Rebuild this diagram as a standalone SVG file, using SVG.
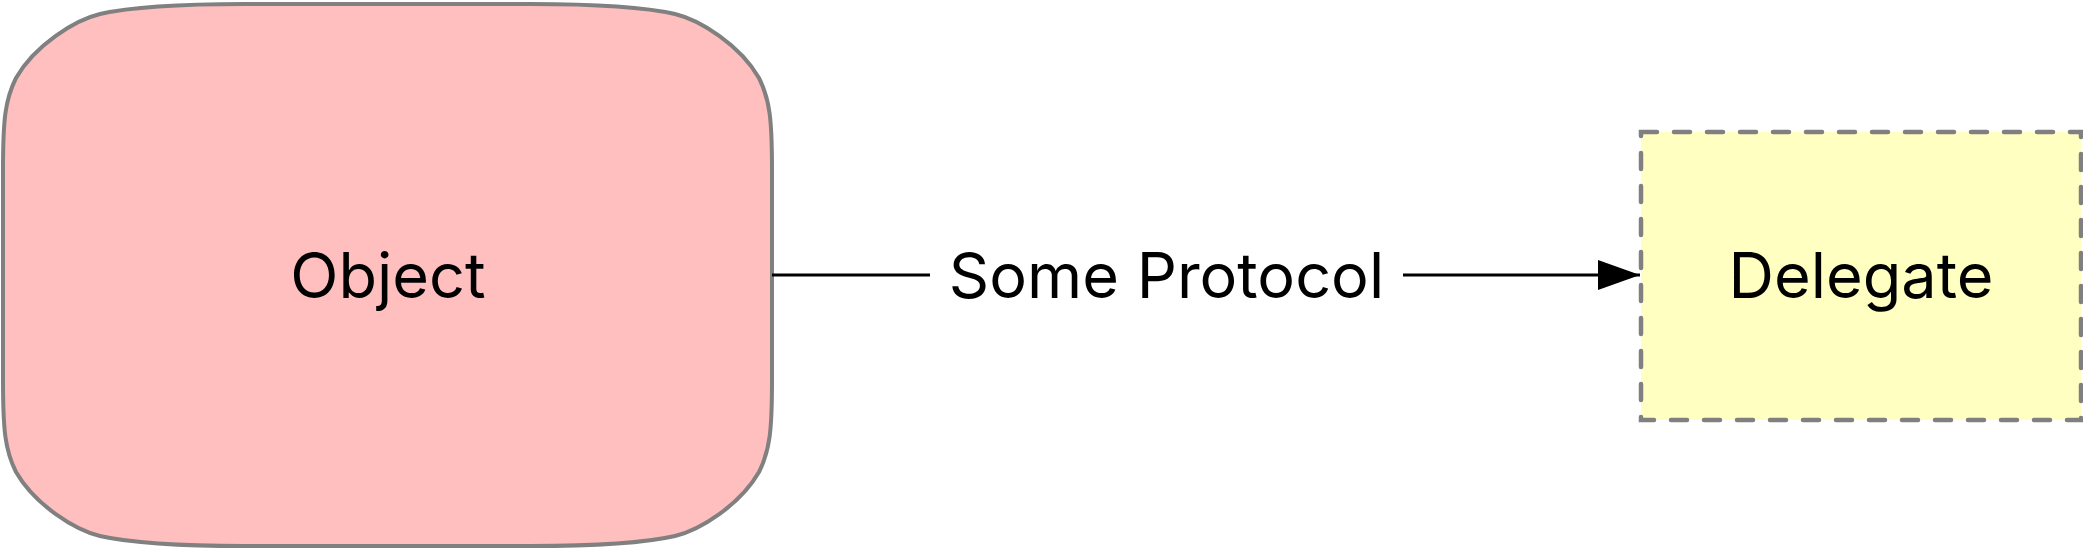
<svg xmlns="http://www.w3.org/2000/svg" width="2083" height="549" viewBox="0 0 2083 549">
  <defs>
    <style>
      .lbl { font-family: Inter, "Noto Sans", "Liberation Sans", sans-serif; font-size: 63px; fill: #000000; text-anchor: middle; }
      .conn { stroke: #000000; stroke-width: 3.2; fill: none; }
    </style>
    <marker id="arrow" markerWidth="42" markerHeight="30" refX="42" refY="15" orient="auto" markerUnits="userSpaceOnUse">
      <path d="M0,0 L42,15 L0,30 Z" fill="#000000"/>
    </marker>
  </defs>
  <rect width="2083" height="549" fill="#ffffff"/>
  <g id="object">
    <path d="M 3,170 C 3,120 5,100 16,78 C 35,45 75,20 100,14 C 135,6 190,4 245,4 L 530,4 C 585,4 640,6 675,14 C 700,20 740,45 759,78 C 770,100 772,120 772,170 L 772,380 C 772,430 770,450 759,472 C 740,505 700,530 675,536 C 640,544 585,546 530,546 L 245,546 C 190,546 135,544 100,536 C 75,530 35,505 16,472 C 5,450 3,430 3,380 Z" fill="#FFBFBF" stroke="#808080" stroke-width="4"/>
    <text class="lbl" x="388" y="298">Object</text>
  </g>
  <g id="delegate">
    <rect x="1641" y="132" width="440" height="288" fill="#FFFFC2" stroke="#808080" stroke-width="4.5" stroke-dasharray="16 17" stroke-linecap="round"/>
    <text class="lbl" x="1861" y="298">Delegate</text>
  </g>
  <g id="connectors">
    <path class="conn" d="M 772,275 L 930,275"/>
    <path class="conn" d="M 1403,275 L 1640,275" marker-end="url(#arrow)"/>
    <text class="lbl" x="1166.5" y="298">Some Protocol</text>
  </g>
</svg>
